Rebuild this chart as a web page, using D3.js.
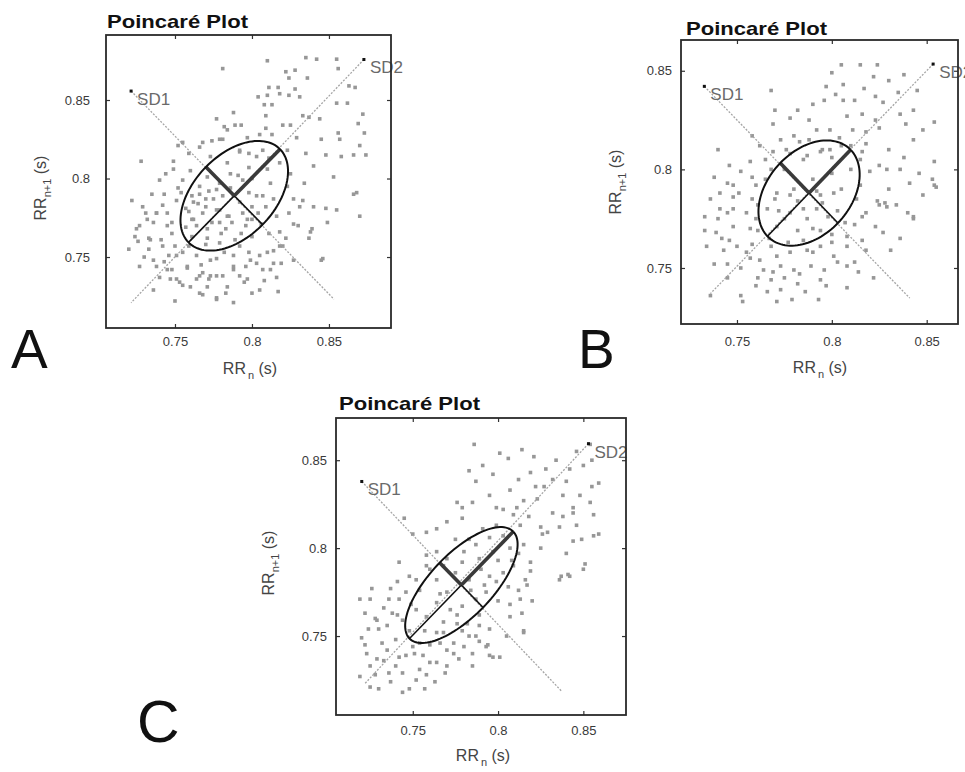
<!DOCTYPE html>
<html><head><meta charset="utf-8">
<script src="https://cdn.jsdelivr.net/npm/d3@7"></script>
<style>
body{margin:0;background:#fff}
svg{display:block}
text{font-family:"Liberation Sans",Arial,Helvetica,sans-serif}
</style>
</head><body>
<svg id="chart" width="965" height="772"></svg>
<script>
// ---------------- DATA ----------------
const tickValues = [0.75, 0.8, 0.85];
const tickLabels = ["0.75", "0.8", "0.85"];
const panelLetters = ["A", "B", "C"];
const titleText = "Poincaré Plot";
const xLabelMain = "RR", xLabelSub = "n", yLabelMain = "RR", yLabelSub = "n+1", unitText = " (s)";
const sdNames = ["SD1", "SD2"];

const xDomainA = [0.7052, 0.8903], yDomainA = [0.7048, 0.8914];
const xDomainB = [0.7205, 0.8665], yDomainB = [0.7216, 0.8656];
const xDomainC = [0.7050, 0.8750], yDomainC = [0.7051, 0.8740];

// ellipse centre [RRn, RRn+1] and [SD1, SD2]
const centerA = [0.7885, 0.7890], sdA = [0.026, 0.042];
const centerB = [0.7880, 0.7880], sdB = [0.0215, 0.031];
const centerC = [0.7785, 0.7790], sdC = [0.018, 0.043];

// SD1 / SD2 guide lines (first point of each carries the marker)
const sd1LineA = [[0.7215, 0.8557], [0.8533, 0.7231]], sd2LineA = [[0.8727, 0.8758], [0.7215, 0.7209]];
const sd1LineB = [[0.7328, 0.8421], [0.8411, 0.7347]], sd2LineB = [[0.8534, 0.8534], [0.7360, 0.7370]];
const sd1LineC = [[0.7201, 0.8379], [0.8373, 0.7186]], sd2LineC = [[0.8530, 0.8594], [0.7215, 0.7225]];

const pointsA = [
[0.781,0.870],[0.810,0.875],[0.835,0.877],[0.842,0.876],[0.855,0.876],[0.856,0.870],[0.822,0.868],[0.828,0.869],[0.836,0.864],[0.824,0.864],
[0.811,0.858],[0.817,0.858],[0.818,0.854],[0.810,0.853],[0.804,0.852],[0.824,0.853],[0.831,0.852],[0.828,0.857],[0.808,0.847],[0.813,0.847],
[0.855,0.848],[0.862,0.848],[0.863,0.859],[0.867,0.858],[0.809,0.840],[0.788,0.842],[0.793,0.834],[0.777,0.838],[0.782,0.833],[0.833,0.840],
[0.837,0.839],[0.844,0.838],[0.820,0.834],[0.825,0.834],[0.809,0.832],[0.805,0.828],[0.813,0.828],[0.774,0.824],[0.781,0.825],[0.768,0.823],
[0.755,0.823],[0.752,0.821],[0.872,0.841],[0.869,0.835],[0.856,0.829],[0.857,0.825],[0.873,0.829],[0.835,0.816],[0.823,0.818],[0.848,0.815],
[0.858,0.814],[0.870,0.821],[0.874,0.815],[0.728,0.811],[0.749,0.811],[0.759,0.816],[0.792,0.818],[0.798,0.816],[0.807,0.818],[0.811,0.813],
[0.868,0.791],[0.870,0.776],[0.866,0.815],[0.845,0.748],[0.849,0.772],[0.853,0.801],[0.840,0.782],[0.838,0.766],
[0.722,0.786],[0.743,0.790],[0.754,0.791],[0.766,0.790],[0.777,0.793],[0.798,0.791],[0.807,0.789],[0.827,0.787],[0.833,0.786],[0.866,0.790],
[0.848,0.781],[0.855,0.780],[0.731,0.778],[0.738,0.778],[0.745,0.778],[0.759,0.779],[0.768,0.778],[0.777,0.780],[0.785,0.776],
[0.794,0.778],[0.804,0.778],[0.727,0.770],[0.736,0.772],[0.748,0.772],[0.764,0.770],[0.774,0.772],[0.783,0.768],[0.796,0.770],[0.824,0.778],
[0.830,0.770],[0.839,0.768],[0.720,0.755],[0.724,0.763],[0.733,0.762],[0.741,0.761],[0.748,0.765],[0.759,0.757],[0.770,0.758],
[0.779,0.759],[0.789,0.761],[0.800,0.763],[0.811,0.765],[0.818,0.766],[0.837,0.762],[0.733,0.755],[0.746,0.751],[0.755,0.753],[0.764,0.751],
[0.777,0.749],[0.788,0.751],[0.798,0.753],[0.805,0.751],[0.814,0.754],[0.820,0.757],[0.846,0.749],[0.738,0.744],[0.748,0.742],[0.758,0.743],
[0.768,0.740],[0.777,0.738],[0.788,0.742],[0.796,0.744],[0.807,0.742],[0.814,0.746],[0.740,0.737],[0.751,0.736],[0.764,0.736],[0.772,0.736],
[0.781,0.738],[0.795,0.734],[0.816,0.737],[0.736,0.729],[0.755,0.732],[0.768,0.726],[0.777,0.724],[0.788,0.721],[0.800,0.727],[0.817,0.728],[0.750,0.722],
[0.761,0.789],[0.770,0.787],[0.781,0.789],[0.792,0.785],[0.800,0.782],[0.809,0.782],[0.770,0.782],[0.761,0.774],[0.779,0.772],[0.787,0.772],[0.800,0.774],
[0.773,0.814],[0.784,0.810],[0.792,0.817],[0.803,0.814],[0.810,0.806],[0.794,0.799],[0.779,0.797],[0.766,0.795],[0.755,0.799],[0.749,0.806],[0.740,0.799],
[0.823,0.795],[0.831,0.782],[0.814,0.787],[0.803,0.789],[0.788,0.789],[0.775,0.787],[0.762,0.785],[0.766,0.820],[0.779,0.825],[0.784,0.831],
[0.725,0.768],[0.732,0.774],[0.738,0.778],[0.745,0.770],[0.734,0.761],[0.742,0.757],[0.751,0.751],[0.736,0.748],[0.727,0.744],[0.745,0.742],
[0.758,0.744],[0.766,0.738],[0.773,0.748],[0.788,0.744],[0.799,0.748],[0.810,0.753],[0.818,0.757],[0.827,0.748],[0.773,0.738],[0.784,0.731],
[0.797,0.736],[0.805,0.729],[0.766,0.727],[0.777,0.723],[0.753,0.734],[0.762,0.774],[0.771,0.768],[0.784,0.776],[0.797,0.774],[0.779,0.780],
[0.742,0.783],[0.751,0.786],[0.757,0.781],[0.765,0.784],[0.772,0.792],[0.786,0.794],[0.791,0.802],[0.798,0.807],[0.786,0.803],[0.771,0.801],
[0.760,0.805],[0.752,0.794],[0.744,0.803],[0.735,0.790],[0.729,0.782],[0.726,0.760],[0.730,0.750],[0.743,0.747],[0.750,0.757],[0.761,0.763],
[0.767,0.745],[0.782,0.753],[0.792,0.757],[0.803,0.746],[0.812,0.742],[0.822,0.762],[0.827,0.771],[0.816,0.776],[0.806,0.771],[0.793,0.765],
[0.780,0.765],[0.771,0.762],[0.757,0.769],[0.747,0.736],[0.760,0.731],[0.771,0.731],[0.783,0.727],[0.792,0.738],[0.808,0.735],[0.819,0.746],
[0.800,0.800],[0.812,0.797],[0.818,0.810],[0.825,0.803],[0.834,0.797],[0.840,0.808],[0.845,0.825],[0.829,0.826],[0.797,0.826],[0.789,0.834]
];

const pointsB = [
[0.768,0.840],[0.805,0.853],[0.815,0.853],[0.824,0.853],[0.800,0.849],[0.822,0.847],[0.838,0.848],[0.797,0.842],[0.802,0.838],[0.817,0.841],
[0.823,0.837],[0.835,0.839],[0.796,0.835],[0.806,0.835],[0.812,0.835],[0.827,0.834],[0.782,0.830],[0.808,0.827],[0.816,0.828],[0.823,0.825],
[0.836,0.828],[0.843,0.830],[0.854,0.824],[0.839,0.823],[0.778,0.826],[0.769,0.823],[0.788,0.825],[0.792,0.820],[0.799,0.820],[0.811,0.820],
[0.818,0.819],[0.825,0.821],[0.758,0.817],[0.773,0.815],[0.780,0.817],[0.783,0.814],[0.762,0.812],[0.769,0.809],[0.794,0.809],[0.787,0.807],
[0.799,0.810],[0.804,0.816],[0.815,0.805],[0.825,0.802],[0.829,0.800],[0.836,0.800],[0.854,0.804],[0.738,0.796],[0.746,0.802],[0.757,0.804],
[0.752,0.799],[0.853,0.795],[0.854,0.792],[0.843,0.776],[0.840,0.778],[0.828,0.783],[0.824,0.784],[0.816,0.809],
[0.736,0.785],[0.741,0.788],[0.751,0.788],[0.758,0.785],[0.771,0.788],[0.778,0.787],[0.794,0.787],[0.801,0.788],[0.813,0.785],[0.825,0.782],
[0.829,0.781],[0.834,0.782],[0.848,0.787],[0.855,0.791],[0.841,0.793],[0.745,0.778],[0.755,0.778],[0.766,0.780],[0.778,0.778],[0.787,0.775],
[0.792,0.780],[0.803,0.779],[0.818,0.778],[0.823,0.771],[0.843,0.775],[0.733,0.769],[0.739,0.768],[0.748,0.771],[0.761,0.769],[0.771,0.771],
[0.782,0.769],[0.794,0.769],[0.808,0.766],[0.816,0.764],[0.831,0.759],[0.734,0.761],[0.743,0.759],[0.750,0.761],[0.755,0.758],[0.762,0.754],
[0.771,0.756],[0.778,0.758],[0.787,0.759],[0.794,0.761],[0.801,0.756],[0.808,0.761],[0.812,0.753],[0.818,0.759],[0.745,0.752],[0.752,0.750],
[0.764,0.749],[0.773,0.751],[0.780,0.749],[0.789,0.751],[0.796,0.749],[0.808,0.751],[0.761,0.745],[0.768,0.744],[0.775,0.745],[0.782,0.742],
[0.794,0.744],[0.808,0.740],[0.766,0.738],[0.773,0.739],[0.736,0.736],[0.752,0.736],[0.753,0.733],[0.771,0.733],[0.793,0.734],
[0.775,0.800],[0.785,0.805],[0.795,0.810],[0.805,0.812],[0.780,0.790],[0.790,0.795],[0.800,0.798],[0.770,0.785],[0.795,0.783],[0.805,0.790],
[0.785,0.780],[0.810,0.800],[0.775,0.775],[0.765,0.795],[0.790,0.770],[0.760,0.792],[0.748,0.780],[0.742,0.765],[0.758,0.762],[0.767,0.765],
[0.785,0.764],[0.800,0.767],[0.812,0.772],[0.815,0.792],[0.820,0.799],[0.765,0.805],[0.778,0.808],[0.760,0.775],[0.748,0.792],[0.740,0.775],
[0.748,0.786],[0.761,0.782],[0.772,0.779],[0.782,0.784],[0.798,0.776],[0.807,0.773],[0.816,0.776],[0.827,0.768],[0.836,0.765],[0.741,0.780],
[0.733,0.776],[0.746,0.764],[0.757,0.770],[0.768,0.761],[0.777,0.763],[0.790,0.758],[0.803,0.753],[0.814,0.748],[0.822,0.745],[0.797,0.741],
[0.786,0.738],[0.779,0.734],[0.760,0.741],[0.745,0.745],[0.738,0.752],[0.757,0.755],[0.769,0.748],[0.783,0.747],[0.800,0.763],[0.792,0.789],
[0.800,0.806],[0.810,0.812],[0.818,0.813],[0.830,0.810],[0.838,0.806],[0.846,0.798],[0.830,0.790],[0.843,0.815],[0.788,0.815],[0.776,0.810],
[0.768,0.800],[0.758,0.796],[0.745,0.793],[0.740,0.810],[0.770,0.830],[0.790,0.833],[0.806,0.843],[0.830,0.845],[0.845,0.840],[0.848,0.820]
];

const pointsC = [
[0.786,0.859],[0.801,0.854],[0.806,0.851],[0.814,0.856],[0.821,0.852],[0.834,0.850],[0.842,0.845],[0.850,0.847],[0.855,0.850],[0.854,0.859],
[0.846,0.855],[0.783,0.844],[0.791,0.847],[0.797,0.842],[0.819,0.843],[0.812,0.839],[0.787,0.838],[0.807,0.833],[0.827,0.835],[0.832,0.839],
[0.838,0.830],[0.855,0.835],[0.859,0.837],[0.823,0.828],[0.776,0.826],[0.779,0.823],[0.785,0.826],[0.799,0.823],[0.811,0.823],[0.809,0.819],
[0.818,0.818],[0.779,0.817],[0.770,0.815],[0.764,0.811],[0.750,0.808],[0.745,0.817],[0.758,0.809],[0.791,0.811],[0.799,0.813],[0.813,0.813],
[0.825,0.812],[0.829,0.809],[0.838,0.818],[0.844,0.820],[0.846,0.813],[0.856,0.819],[0.856,0.807],[0.849,0.805],[0.840,0.797],[0.851,0.791],
[0.742,0.792],[0.758,0.796],[0.764,0.798],[0.775,0.805],[0.783,0.805],
[0.844,0.823],[0.854,0.826],[0.844,0.804],[0.850,0.788],[0.841,0.785],[0.836,0.782],[0.859,0.808],[0.825,0.800],[0.819,0.792],[0.815,0.753],
[0.817,0.779],[0.797,0.738],[0.801,0.738],[0.794,0.745],
[0.719,0.771],[0.725,0.771],[0.726,0.777],[0.737,0.777],[0.736,0.771],[0.742,0.771],[0.748,0.784],[0.744,0.759],[0.729,0.759],[0.730,0.754],
[0.724,0.754],[0.720,0.749],[0.732,0.746],[0.740,0.748],[0.723,0.740],[0.725,0.733],[0.719,0.727],[0.725,0.721],[0.730,0.720],[0.737,0.724],
[0.744,0.718],[0.744,0.729],[0.746,0.739],[0.756,0.739],[0.764,0.735],[0.769,0.729],[0.754,0.731],[0.763,0.724],[0.752,0.725],[0.777,0.737],
[0.770,0.742],[0.780,0.744],[0.793,0.744],[0.795,0.739],[0.787,0.750],[0.783,0.750],[0.774,0.746],[0.754,0.746],[0.764,0.752],
[0.795,0.754],[0.789,0.756],[0.782,0.757],[0.807,0.761],[0.814,0.763],[0.813,0.771],[0.815,0.752],[0.812,0.776],[0.816,0.782],[0.819,0.787],
[0.837,0.784],[0.842,0.784],
[0.764,0.769],[0.772,0.765],[0.779,0.767],[0.787,0.771],[0.793,0.775],[0.770,0.775],[0.758,0.761],[0.776,0.757],[0.783,0.782],[0.795,0.784],
[0.803,0.786],[0.754,0.776],[0.752,0.765],[0.764,0.782],
[0.797,0.798],[0.807,0.800],[0.815,0.802],[0.789,0.794],[0.779,0.792],[0.770,0.794],
[0.733,0.766],[0.738,0.763],[0.749,0.768],[0.733,0.736],[0.740,0.733],[0.748,0.753],[0.760,0.745],[0.768,0.752],[0.776,0.762],[0.789,0.762],
[0.800,0.770],[0.806,0.778],[0.760,0.788],[0.775,0.786],[0.790,0.788],[0.800,0.793],[0.808,0.793],[0.728,0.728],[0.735,0.742],[0.758,0.728],
[0.728,0.760],[0.722,0.763],[0.735,0.756],[0.741,0.762],[0.746,0.775],[0.741,0.781],[0.752,0.782],[0.758,0.790],[0.768,0.790],[0.780,0.798],
[0.787,0.802],[0.795,0.806],[0.803,0.807],[0.766,0.774],[0.784,0.776],[0.792,0.779],[0.799,0.781],[0.809,0.790],[0.812,0.797],[0.757,0.753],
[0.766,0.746],[0.774,0.740],[0.785,0.740],[0.789,0.747],[0.779,0.753],[0.768,0.758],[0.750,0.744],[0.742,0.738],[0.736,0.729],[0.729,0.737],
[0.722,0.745],[0.748,0.720],[0.757,0.720],[0.760,0.735],[0.751,0.740],[0.770,0.733],[0.785,0.733],[0.805,0.750],[0.807,0.768],[0.820,0.770],
[0.826,0.808],[0.832,0.820],[0.822,0.835],[0.828,0.845],[0.815,0.827],[0.803,0.822],[0.795,0.830],[0.840,0.838],[0.848,0.830],[0.836,0.812]
];

// ---------------- LAYOUT ----------------
const panels = [
  {letter: panelLetters[0], xDomain: xDomainA, yDomain: yDomainA, center: centerA, sd: sdA, sd1Line: sd1LineA, sd2Line: sd2LineA, points: pointsA,
   box: {x0: 106, x1: 391, y0: 35, y1: 328}, yPad: 16, xPad: 9, title: [107, 28], letterPos: [11, 368], letterSize: 55,
   xLab: [250, 374], yLab: [46, 188]},
  {letter: panelLetters[1], xDomain: xDomainB, yDomain: yDomainB, center: centerB, sd: sdB, sd1Line: sd1LineB, sd2Line: sd2LineB, points: pointsB,
   box: {x0: 681, x1: 958, y0: 40, y1: 324}, yPad: 9, xPad: 13, title: [686, 35], letterPos: [578, 368], letterSize: 55,
   xLab: [820, 373], yLab: [621, 182]},
  {letter: panelLetters[2], xDomain: xDomainC, yDomain: yDomainC, center: centerC, sd: sdC, sd1Line: sd1LineC, sd2Line: sd2LineC, points: pointsC,
   box: {x0: 336, x1: 626, y0: 418, y1: 715}, yPad: 9, xPad: 11, title: [339, 410], letterPos: [137, 742], letterSize: 59,
   xLab: [483, 761], yLab: [274, 563]}
];

const svg = d3.select("#chart");
svg.append("rect").attr("width", 965).attr("height", 772).attr("fill", "#fff");
const defs = svg.append("defs");
defs.append("filter").attr("id", "soft").attr("x", "-10%").attr("y", "-10%").attr("width", "120%").attr("height", "120%")
  .append("feGaussianBlur").attr("stdDeviation", 0.7);

function styleAxis(g) {
  g.select(".domain").remove();
  g.selectAll(".tick line").attr("stroke", "#333").attr("stroke-width", 1.2);
  g.selectAll(".tick text").attr("font-size", 13).attr("fill", "#3a3a3a")
    .attr("font-family", "'Liberation Sans', Arial, sans-serif");
}

panels.forEach(p => {
  const g = svg.append("g");
  const x = d3.scaleLinear().domain(p.xDomain).range([p.box.x0, p.box.x1]);
  const y = d3.scaleLinear().domain(p.yDomain).range([p.box.y1, p.box.y0]);
  const line = d3.line().x(d => x(d[0])).y(d => y(d[1]));

  // scatter points
  g.append("g").attr("filter", "url(#soft)")
    .selectAll("rect").data(p.points).join("rect")
    .attr("x", d => x(d[0]) - 1.8).attr("y", d => y(d[1]) - 1.8)
    .attr("width", 3.6).attr("height", 3.6).attr("fill", "#979797");

  // SD guide lines
  [p.sd1Line, p.sd2Line].forEach((l, i) => {
    g.append("path").attr("d", line(l)).attr("fill", "none")
      .attr("stroke", "#a5a5a5").attr("stroke-width", 1.3).attr("stroke-dasharray", "2,1.5");
    g.append("rect").attr("x", x(l[0][0]) - 1.5).attr("y", y(l[0][1]) - 1.5)
      .attr("width", 3).attr("height", 3).attr("fill", "#111");
    g.append("text").attr("x", x(l[0][0]) + 6).attr("y", y(l[0][1]) + 14)
      .attr("font-size", 17).attr("fill", "#6a6a6a").text(sdNames[i]);
  });

  // ellipse
  const [cx, cy] = p.center, [s1, s2] = p.sd, r = Math.SQRT1_2;
  const ell = d3.range(0, 361, 3).map(t => {
    const a = t * Math.PI / 180, u = s2 * Math.cos(a), v = s1 * Math.sin(a);
    return [cx + (u - v) * r, cy + (u + v) * r];
  });
  const majorAxis = [[cx - s2 * r, cy - s2 * r], [cx + s2 * r, cy + s2 * r]];
  const minorAxis = [[cx + s1 * r, cy - s1 * r], [cx - s1 * r, cy + s1 * r]];
  g.append("path").attr("d", line(majorAxis)).attr("stroke", "#111").attr("stroke-width", 1.6).attr("fill", "none");
  g.append("path").attr("d", line(minorAxis)).attr("stroke", "#111").attr("stroke-width", 1.6).attr("fill", "none");
  g.append("path").attr("d", line([p.center, majorAxis[1]])).attr("stroke", "#3a3a3a").attr("stroke-width", 3.6).attr("fill", "none");
  g.append("path").attr("d", line([p.center, minorAxis[1]])).attr("stroke", "#3a3a3a").attr("stroke-width", 3.6).attr("fill", "none");
  g.append("path").attr("d", line(ell)).attr("stroke", "#111").attr("stroke-width", 2).attr("fill", "none");

  // axes
  const fmt = d => tickLabels[tickValues.indexOf(d)];
  const gb = g.append("g").attr("transform", `translate(0,${p.box.y1})`)
    .call(d3.axisBottom(x).tickValues(tickValues).tickFormat(fmt).tickSize(-4).tickPadding(p.xPad));
  styleAxis(gb);
  const gt = g.append("g").attr("transform", `translate(0,${p.box.y0})`)
    .call(d3.axisTop(x).tickValues(tickValues).tickFormat("").tickSize(-4));
  styleAxis(gt);
  const gl = g.append("g").attr("transform", `translate(${p.box.x0},0)`)
    .call(d3.axisLeft(y).tickValues(tickValues).tickFormat(fmt).tickSize(-4).tickPadding(p.yPad));
  styleAxis(gl);
  const gr = g.append("g").attr("transform", `translate(${p.box.x1},0)`)
    .call(d3.axisRight(y).tickValues(tickValues).tickFormat("").tickSize(-4));
  styleAxis(gr);

  g.append("rect").attr("x", p.box.x0).attr("y", p.box.y0)
    .attr("width", p.box.x1 - p.box.x0).attr("height", p.box.y1 - p.box.y0)
    .attr("fill", "none").attr("stroke", "#2a2a2a").attr("stroke-width", 1.8);

  // title
  g.append("text").attr("x", p.title[0]).attr("y", p.title[1])
    .attr("font-size", 19).attr("font-weight", "bold").attr("fill", "#111")
    .attr("textLength", 141).attr("lengthAdjust", "spacingAndGlyphs").text(titleText);

  // x label
  const xl = g.append("text").attr("x", p.xLab[0]).attr("y", p.xLab[1])
    .attr("text-anchor", "middle").attr("font-size", 16).attr("fill", "#444");
  xl.append("tspan").text(xLabelMain);
  xl.append("tspan").attr("font-size", 11).attr("dy", 5).attr("dx", 2).text(xLabelSub);
  xl.append("tspan").attr("dy", -5).text(unitText);

  // y label
  const yl = g.append("text").attr("transform", `translate(${p.yLab[0]},${p.yLab[1]}) rotate(-90)`)
    .attr("text-anchor", "middle").attr("font-size", 16).attr("fill", "#444");
  yl.append("tspan").text(yLabelMain);
  yl.append("tspan").attr("font-size", 11).attr("dy", 5).text(yLabelSub);
  yl.append("tspan").attr("dy", -5).text(unitText);

  // panel letter
  g.append("text").attr("x", p.letterPos[0]).attr("y", p.letterPos[1])
    .attr("font-size", p.letterSize).attr("fill", "#111").text(p.letter);
});
</script>
</body></html>
